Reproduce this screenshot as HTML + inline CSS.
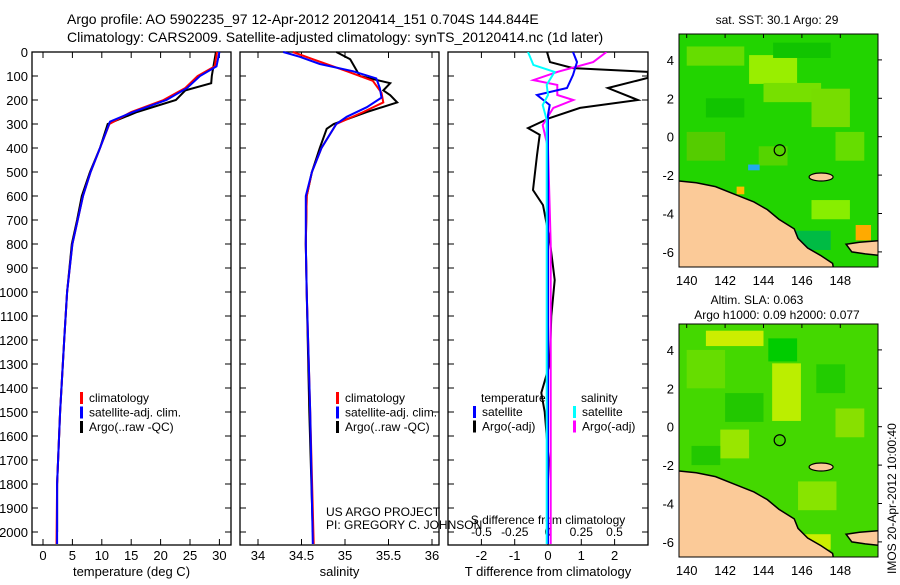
<!DOCTYPE html>
<html><head><meta charset="utf-8"><style>
body{margin:0;background:#fff;}
svg text{font-family:"Liberation Sans",sans-serif;fill:#000;}
</style></head><body>
<svg id="fig" width="900" height="580" xmlns="http://www.w3.org/2000/svg">
<text x="67" y="24" font-size="14">Argo profile: AO 5902235_97 12-Apr-2012 20120414_151 0.704S 144.844E</text>
<text x="67" y="42" font-size="14">Climatology: CARS2009. Satellite-adjusted climatology: synTS_20120414.nc (1d later)</text>
<g id="p1"></g>
<g id="p2"></g>
<g id="p3"></g>
<g id="m1"></g>
<g id="m2"></g>
</svg>
<script>
// ---- data ----
const depthTicks=[0,100,200,300,400,500,600,700,800,900,1000,1100,1200,1300,1400,1500,1600,1700,1800,1900,2000];
const tTicks=[0,5,10,15,20,25,30];
const sTicks=[34,34.5,35,35.5,36];
const dTTicks=[-2,-1,0,1,2];
const dSTicks=[-0.5,-0.25,0,0.25,0.5];
const dSTickLabels=["-0.5","-0.25","0","0.25","0.5"];
const tClimD=[0,60,100,150,200,250,300,400,500,600,700,800,1000,1200,1500,1800,2050];
const tClim=[29.6,29.2,26.3,24.2,20.5,15.0,11.3,9.7,8.1,6.8,5.9,5.0,4.1,3.6,2.9,2.4,2.3];
const tSatD=[0,60,100,150,200,250,290,400,500,600,700,800,1000,1200,1500,1800,2050];
const tSat=[30,29.5,26.7,24.5,21,15.3,11.4,9.7,8.1,6.8,5.9,5.0,4.1,3.6,2.9,2.4,2.4];
const tArgoD=[0,100,130,160,200,250,300,400,500,600,700,800,1000,1200,1500,1800,2000];
const tArgo=[29.4,28.7,28.6,24.2,22.6,16,11,9.7,8.0,6.6,5.8,4.9,4.1,3.6,2.9,2.4,2.4];
const sClimD=[0,30,80,120,170,210,250,300,400,500,600,800,1000,1500,2050];
const sClim=[34.4,34.63,35.02,35.32,35.42,35.44,35.21,34.9,34.73,34.62,34.56,34.55,34.56,34.6,34.64];
const sSatD=[0,20,50,80,110,150,190,230,270,300,400,500,600,800,1000,1500,2050];
const sSat=[34.29,34.48,34.71,35.09,35.36,35.4,35.42,35.25,35.02,34.9,34.73,34.62,34.55,34.55,34.56,34.6,34.63];
const sArgoD=[0,30,100,130,160,180,210,250,300,320,400,500,600,800,1000,1500,2000];
const sArgo=[34.9,35.06,35.17,35.52,35.44,35.52,35.6,35.25,34.87,34.79,34.71,34.62,34.56,34.55,34.56,34.59,34.63];
const dTArgoD=[0,42,67,83,108,150,200,233,275,317,345,430,575,638,783,950,1100,1300,1420,1500,1700,1900,2050];
const dTArgo=[-0.03,0.06,0.75,3.0,3.0,1.8,2.7,0.96,0.05,-0.6,-0.25,-0.33,-0.45,-0.15,0.05,0.2,0.1,0.05,-0.2,-0.1,0.02,-0.03,-0.02];
const dTSatD=[0,42,96,150,179,221,262,400,800,1200,1600,2050];
const dTSat=[0.75,0.87,0.75,0.57,-0.33,0.05,0,0,0,0,0,0];
const dSSatD=[0,54,83,137,179,221,283,400,800,1200,1600,2050];
const dSSat=[-0.15,-0.11,0.05,-0.01,0.0,-0.04,-0.01,-0.01,-0.01,-0.01,-0.01,-0.01];
const dSArgoD=[0,42,83,117,137,179,200,233,304,400,800,1200,1600,2050];
const dSArgo=[0.44,0.34,0.07,-0.11,0.07,0.07,0.19,0.04,-0.04,0.0,0.02,0.02,0.02,0.02];
// ---- helpers ----
const NS="http://www.w3.org/2000/svg";
function mk(tag,attrs,parent){const e=document.createElementNS(NS,tag);for(const k in attrs)e.setAttribute(k,attrs[k]);parent.appendChild(e);return e;}
const yD=d=>52+d*0.24;
const TOP=52,BOT=545;
function axisBox(g,x0,x1,xs,ticks,labels,title,showDepth){
  const r=mk('rect',{x:x0,y:TOP,width:x1-x0,height:BOT-TOP,fill:'none',stroke:'#000','stroke-width':1.3},g);
  
  depthTicks.forEach(d=>{const y=yD(d);
    mk('line',{x1:x0,x2:x0+6,y1:y,y2:y,stroke:'#000'},g);mk('line',{x1:x1-6,x2:x1,y1:y,y2:y,stroke:'#000'},g);
    if(showDepth){const t=mk('text',{x:x0-4,y:y+5,'font-size':13,'text-anchor':'end'},g);t.textContent=d;
      }
  });
  ticks.forEach((v,i)=>{const x=xs(v);mk('line',{x1:x,x2:x,y1:TOP,y2:TOP+6,stroke:'#000'},g);mk('line',{x1:x,x2:x,y1:BOT-6,y2:BOT,stroke:'#000'},g);
    const t=mk('text',{x:x,y:BOT+15,'font-size':13,'text-anchor':'middle'},g);t.textContent=labels[i];
    });
  const tt=mk('text',{x:(x0+x1)/2,y:BOT+31,'font-size':13,'text-anchor':'middle'},g);tt.textContent=title;
  
}
function line(g,xs,ds,vs,color,name,clip){
  const p=mk('polyline',{points:ds.map((d,i)=>xs(vs[i]).toFixed(1)+','+yD(d).toFixed(1)).join(' '),fill:'none',stroke:color,'stroke-width':2.0,'clip-path':clip||''},g);
  
}
function legend(g,x,y,items){items.forEach((it,i)=>{const yy=y+i*14.5;
  mk('rect',{x:x,y:yy-10,width:3,height:12,fill:it[1]},g);
  const t=mk('text',{x:x+9,y:yy,'font-size':12},g);t.textContent=it[0];
  });}
// ---- panel 1 ----
const p1=document.getElementById('p1');
const xT=v=>43+v*5.88;
axisBox(p1,32,231,xT,tTicks,tTicks,'temperature (deg C)',true);
line(p1,xT,tArgoD,tArgo,'#000','argo-temperature-line');
line(p1,xT,tClimD,tClim,'#f00','climatology-temperature-line');
line(p1,xT,tSatD,tSat,'#00f','satellite-temperature-line');
legend(p1,80,402,[['climatology','#f00'],['satellite-adj. clim.','#00f'],['Argo(..raw -QC)','#000']]);
// ---- panel 2 ----
const p2=document.getElementById('p2');
const xS=v=>258+(v-34)*87;
axisBox(p2,240,439,xS,sTicks,sTicks.map(String),'salinity',false);
line(p2,xS,sArgoD,sArgo,'#000','argo-salinity-line');
line(p2,xS,sClimD,sClim,'#f00','climatology-salinity-line');
line(p2,xS,sSatD,sSat,'#00f','satellite-salinity-line');
legend(p2,336,402,[['climatology','#f00'],['satellite-adj. clim.','#00f'],['Argo(..raw -QC)','#000']]);
[['US ARGO PROJECT',516],['PI: GREGORY C. JOHNSON',529]].forEach(a=>{const t=mk('text',{x:326,y:a[1],'font-size':12},p2);t.textContent=a[0];
  });
// ---- panel 3 ----
const p3=document.getElementById('p3');
const xdT=v=>548+v*33.3, xdS=v=>548+v*133;
const defs=mk('defs',{},document.getElementById('fig'));
const cp=mk('clipPath',{id:'c3'},defs);mk('rect',{x:448,y:52,width:200,height:493},cp);
axisBox(p3,448,648,xdT,dTTicks,dTTicks.map(String),'T difference from climatology',false);
dSTicks.forEach((v,i)=>{const t=mk('text',{x:xdS(v),y:536,'font-size':12,'text-anchor':'middle'},p3);t.textContent=dSTickLabels[i];
  });
{const t=mk('text',{x:548,y:524,'font-size':12,'text-anchor':'middle'},p3);t.textContent='S difference from climatology';
 }
line(p3,xdT,dTArgoD,dTArgo,'#000','argo-temp-diff-line','url(#c3)');
line(p3,xdS,dSArgoD,dSArgo,'#f0f','argo-sal-diff-line','url(#c3)');
line(p3,xdT,dTSatD,dTSat,'#00f','sat-temp-diff-line','url(#c3)');
line(p3,xdS,dSSatD,dSSat,'#0ff','sat-sal-diff-line','url(#c3)');
{const t=mk('text',{x:481,y:402,'font-size':12},p3);t.textContent='temperature';
 const t2=mk('text',{x:581,y:402,'font-size':12},p3);t2.textContent='salinity';}
legend(p3,473,416,[['satellite','#00f'],['Argo(-adj)','#000']]);
legend(p3,573,416,[['satellite','#0ff'],['Argo(-adj)','#f0f']]);
// ---- maps ----
const lonTicks=[140,142,144,146,148], latTicks=[4,2,0,-2,-4,-6];
const coast=[[139.5,-2.3],[140.5,-2.4],[141.5,-2.6],[142.5,-3.0],[143.5,-3.4],[144.2,-3.8],[144.8,-4.3],[145.6,-4.8],[145.8,-5.3],[146.3,-5.8],[147,-6.2],[147.6,-6.6],[147.7,-7.2],[139.5,-7.2]];
const nb=[[148.3,-5.6],[149,-5.5],[150.2,-5.4],[150.2,-6.2],[149.3,-6.1],[148.6,-6.0]];
const patches1=[[141.5,4.2,3,1,'#66dd00'],[144.5,3.5,2.5,1.5,'#99ee00'],[145.5,2.3,3,1,'#77e000'],[147.5,1.5,2,2,'#77dd00'],[141,-0.5,2,1.5,'#55cc00'],[142,1.5,2,1,'#11c400'],[146,4.5,3,0.8,'#11c400'],[148.5,-0.5,1.5,1.5,'#66dd00'],[144.5,-1,1.5,1,'#55d400'],[143.5,-1.6,0.6,0.3,'#22aaee'],[149.2,-5,0.8,0.8,'#ffaa00'],[142.8,-2.8,0.4,0.4,'#ffbb00'],[147.5,-3.8,2,1,'#88ee00'],[146.5,-5.4,2,1,'#00bb44']];
const patches2=[[142.5,4.6,3,0.8,'#ccee00'],[141,3,2,2,'#66dd00'],[145.2,1.8,1.5,3,'#bbee00'],[142.5,-0.9,1.5,1.5,'#99e600'],[148.5,0.2,1.5,1.5,'#88e000'],[145,4,1.5,1.2,'#00cc00'],[147.5,2.5,1.5,1.5,'#22cc00'],[143,1,2,1.5,'#22c800'],[146.8,-3.6,2,1.5,'#88e400'],[146.5,-6,2,0.8,'#ccee00'],[141,-1.5,1.5,1,'#22c800']];
function map(id,y0,title,base,patches){
  const g=document.getElementById(id);
  const lx=v=>686.7+(v-140)*19.2;
  const ly=v=>y0+102.7-v*19.2;
  const c=mk('clipPath',{id:'cl'+id},defs);mk('rect',{x:679,y:y0,width:199,height:233},c);
  const inner=mk('g',{'clip-path':'url(#cl'+id+')'},g);
  mk('rect',{x:679,y:y0,width:199,height:233,fill:base},inner);
  patches.forEach(p=>{const e=mk('rect',{x:lx(p[0]-p[2]/2),y:ly(p[1]+p[3]/2),width:p[2]*19.2,height:p[3]*19.2,fill:p[4]},inner);
    });
  [coast,nb].forEach(poly=>{const e=mk('polygon',{points:poly.map(q=>lx(q[0])+','+ly(q[1])).join(' '),fill:'#fbca98',stroke:'#000','stroke-width':1.5},inner);
    });
  const isl=mk('ellipse',{cx:lx(147),cy:ly(-2.1),rx:12,ry:4,fill:'#fbca98',stroke:'#000','stroke-width':1.2},inner);
  
  const f=mk('circle',{cx:lx(144.844),cy:ly(-0.704),r:5.5,fill:'none',stroke:'#000','stroke-width':1.2},g);
  
  mk('rect',{x:679,y:y0,width:199,height:233,fill:'none',stroke:'#000'},g);
  lonTicks.forEach(v=>{const x=lx(v);mk('line',{x1:x,x2:x,y1:y0,y2:y0+4,stroke:'#000'},g);
    const t=mk('text',{x:x,y:y0+251,'font-size':13,'text-anchor':'middle'},g);t.textContent=v;
    });
  latTicks.forEach(v=>{const y=ly(v);mk('line',{x1:878,x2:882,y1:y,y2:y,stroke:'#000'},g);
    const t=mk('text',{x:674,y:y+5,'font-size':13,'text-anchor':'end'},g);t.textContent=v;
    });
  title.forEach((s,i)=>{const t=mk('text',{x:s[1],y:s[2],'font-size':12,'text-anchor':'middle'},g);t.textContent=s[0];
    });
}
map('m1',34,[['sat. SST: 30.1  Argo: 29',777,24]],'#22d400',patches1);
map('m2',324,[['Altim. SLA: 0.063',757,304],['Argo h1000: 0.09 h2000: 0.077',777,319]],'#44d800',patches2);
{const t=mk('text',{x:0,y:0,'font-size':12,transform:'translate(896,574) rotate(-90)'},document.getElementById('m2'));
 t.textContent='IMOS 20-Apr-2012 10:00:40';}
</script>
</body></html>
